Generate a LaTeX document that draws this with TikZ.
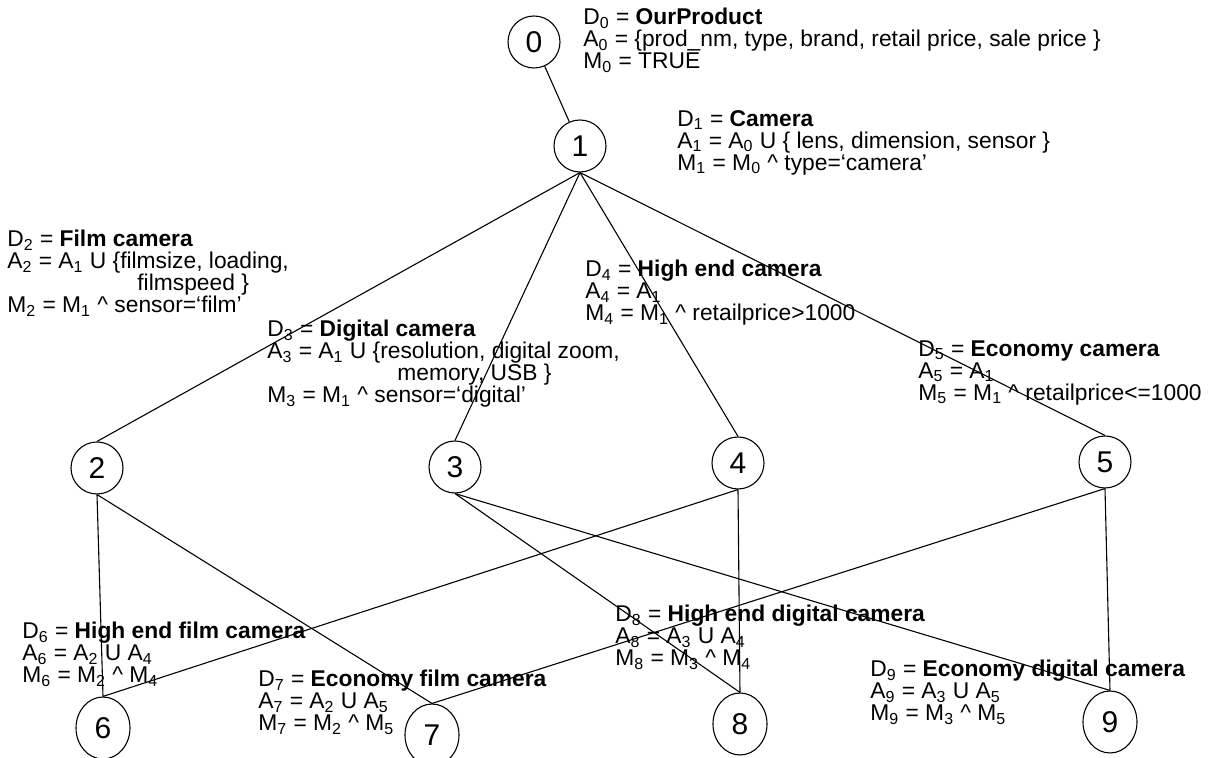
\documentclass[tikz,border=0pt]{standalone}
\usepackage{fontspec}
\setmainfont{Liberation Sans}
\usetikzlibrary{positioning,shapes.geometric}
\newcommand{\ix}[1]{\textsubscript{#1}}
\tikzset{
    vert/.style={circle, draw, line width=0.55pt, minimum size=26pt, inner sep=0pt,
        font=\fontsize{15}{15}\selectfont},
    vertlow/.style={ellipse, draw, line width=0.55pt, minimum width=27pt, minimum height=31pt,
        inner sep=0pt, font=\fontsize{15}{15}\selectfont},
    desc/.style={anchor=north west, align=left, inner sep=0pt,
        font=\fontsize{11.4}{11}\selectfont}
}

\begin{document}
\begin{tikzpicture}[x=0.5pt, y=-0.5pt]
    \useasboundingbox (0,0) rectangle (1217,758);
    \node[vert] (n0) at (534, 42) {0};
    \node[vert] (n1) at (580, 146) {1};
    \node[vert] (n2) at (97, 468) {2};
    \node[vert] (n3) at (455, 467) {3};
    \node[vert] (n4) at (738, 463) {4};
    \node[vert] (n5) at (1105, 462) {5};
    \node[vertlow] (n6) at (103, 728) {6};
    \node[vertlow] (n7) at (432, 735) {7};
    \node[vertlow] (n8) at (740, 724) {8};
    \node[vertlow] (n9) at (1110, 722) {9};
    \draw[line width=0.55pt] (n0) -- (n1);
    \foreach \a/\b in {1/2,1/3,1/4,1/5,2/6,2/7,3/8,3/9,4/6,4/8,5/7,5/9}
        \draw[line width=0.55pt] (n\a.south) -- (n\b.north);
    % descriptions
    \node[desc] (d0) at (583, 8) {D\ix{0} = \textbf{OurProduct}\\
        A\ix{0} = \{prod\_nm, type, brand, retail price, sale price \}\\
        M\ix{0} = TRUE};
    \node[desc] (d1) at (677, 110) {D\ix{1} = \textbf{Camera}\\
        A\ix{1} = A\ix{0} U \{ lens, dimension, sensor \}\\
        M\ix{1} = M\ix{0} \textasciicircum{} type=`camera'};
    \node[desc] (d2) at (7, 230) {D\ix{2} = \textbf{Film camera}\\
        A\ix{2} = A\ix{1} U \{filmsize, loading,\\
        \hspace*{65pt}filmspeed \}\\
        M\ix{2} = M\ix{1} \textasciicircum{} sensor=`film'};
    \node[desc] (d3) at (267, 320) {D\ix{3} = \textbf{Digital camera}\\
        A\ix{3} = A\ix{1} U \{resolution, digital zoom,\\
        \hspace*{65pt}memory, USB \}\\
        M\ix{3} = M\ix{1} \textasciicircum{} sensor=`digital'};
    \node[desc] (d4) at (585, 260) {D\ix{4} = \textbf{High end camera}\\
        A\ix{4} = A\ix{1}\\
        M\ix{4} = M\ix{1} \textasciicircum{} retailprice>1000};
    \node[desc] (d5) at (918, 340) {D\ix{5} = \textbf{Economy camera}\\
        A\ix{5} = A\ix{1}\\
        M\ix{5} = M\ix{1} \textasciicircum{} retailprice<=1000};
    \node[desc] (d6) at (22, 622) {D\ix{6} = \textbf{High end film camera}\\
        A\ix{6} = A\ix{2} U A\ix{4}\\
        M\ix{6} = M\ix{2} \textasciicircum{} M\ix{4}};
    \node[desc] (d7) at (258, 670) {D\ix{7} = \textbf{Economy film camera}\\
        A\ix{7} = A\ix{2} U A\ix{5}\\
        M\ix{7} = M\ix{2} \textasciicircum{} M\ix{5}};
    \node[desc] (d8) at (615, 605) {D\ix{8} = \textbf{High end digital camera}\\
        A\ix{8} = A\ix{3} U A\ix{4}\\
        M\ix{8} = M\ix{3} \textasciicircum{} M\ix{4}};
    \node[desc] (d9) at (870, 660) {D\ix{9} = \textbf{Economy digital camera}\\
        A\ix{9} = A\ix{3} U A\ix{5}\\
        M\ix{9} = M\ix{3} \textasciicircum{} M\ix{5}};
\end{tikzpicture}
\end{document}
